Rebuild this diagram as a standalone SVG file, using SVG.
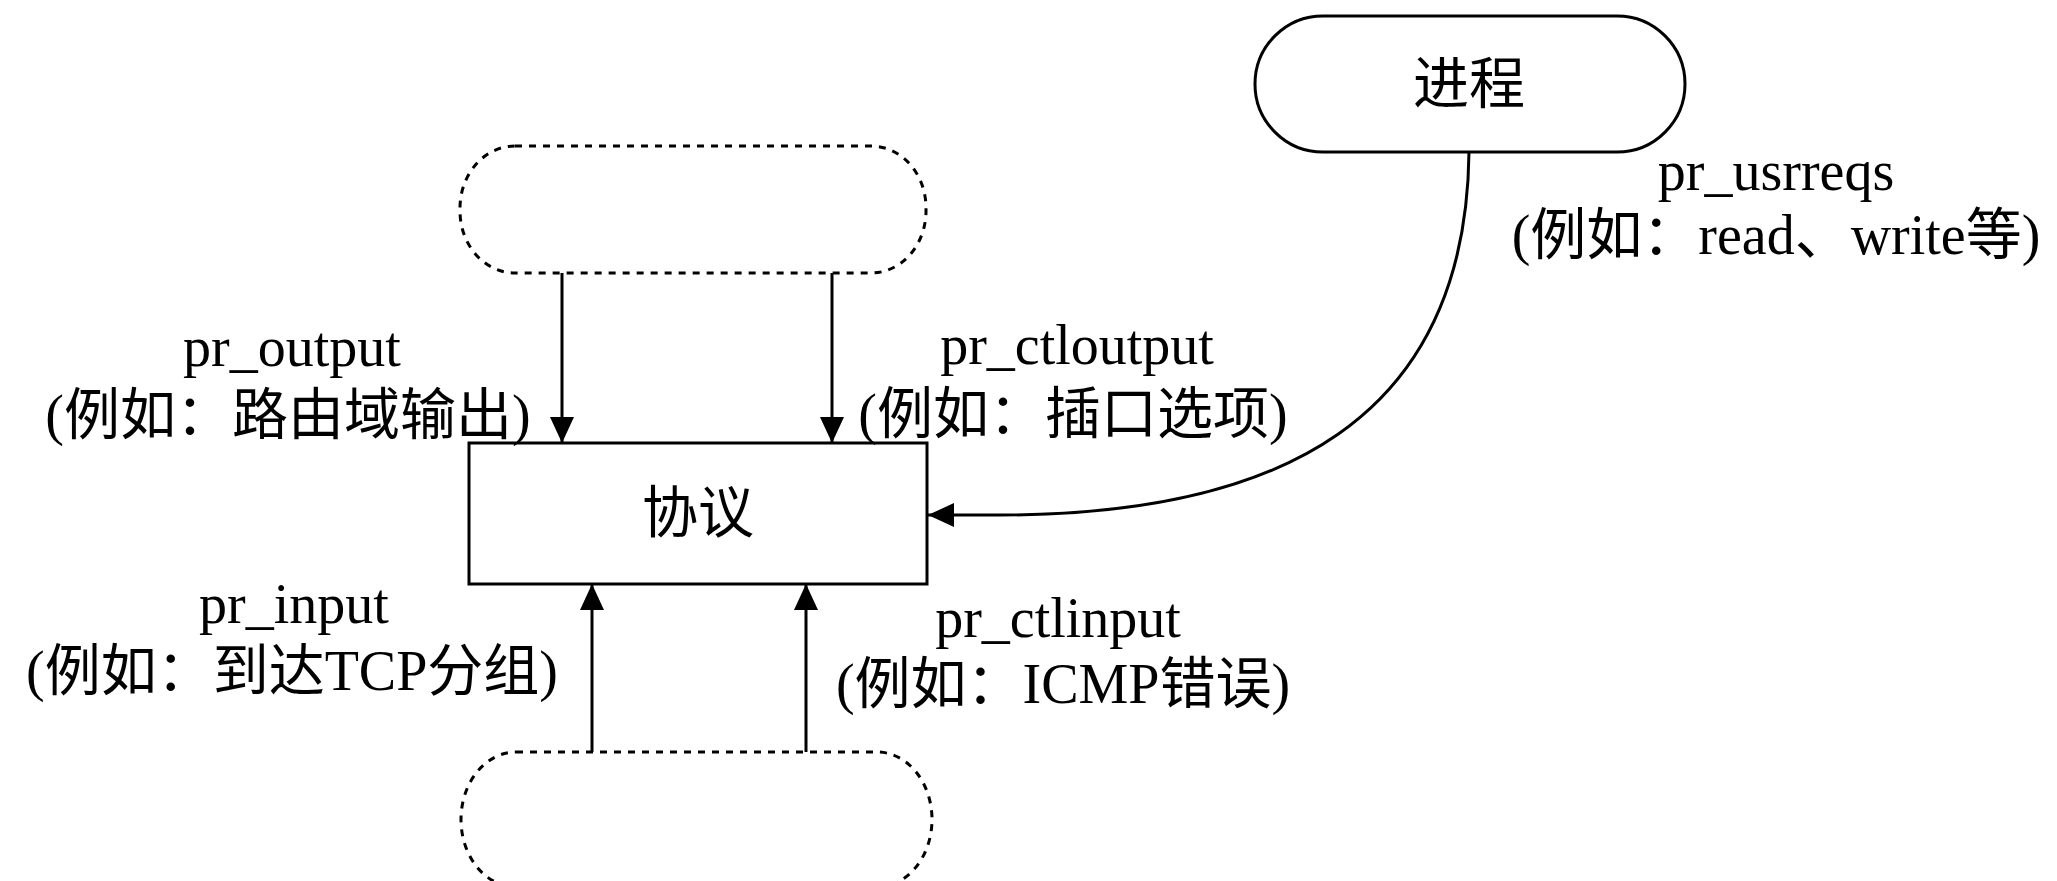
<svg xmlns="http://www.w3.org/2000/svg" width="2057" height="881" viewBox="0 0 2057 881">
<defs>
<style>
.lbl{font-family:"Liberation Serif","Noto Sans CJK SC",serif;font-size:56px;fill:#000;text-anchor:middle}
.node{fill:#fff;stroke:#000;stroke-width:3}
.dot{fill:none;stroke:#000;stroke-width:3;stroke-dasharray:7 7}
.edge{fill:none;stroke:#000;stroke-width:3}
</style>
<marker id="ah" viewBox="0 0 26 24" refX="26" refY="12" markerWidth="26" markerHeight="24" markerUnits="userSpaceOnUse" orient="auto">
<path d="M0,0 L26,12 L0,24 Z" fill="#000"/>
</marker>
</defs>
<rect width="2057" height="881" fill="#fff"/>
<g id="connectors">
<line class="edge" x1="562" y1="273" x2="562" y2="443" marker-end="url(#ah)"/>
<line class="edge" x1="832" y1="273" x2="832" y2="443" marker-end="url(#ah)"/>
<line class="edge" x1="592" y1="752" x2="592" y2="584" marker-end="url(#ah)"/>
<line class="edge" x1="806" y1="752" x2="806" y2="584" marker-end="url(#ah)"/>
<path class="edge" d="M1469,152 C1466,420 1280,515 1000,515 L928,515" marker-end="url(#ah)"/>
</g>
<g id="process">
<rect class="node" x="1255" y="16" width="430" height="136" rx="68" ry="68"/>
<text class="lbl" x="1469" y="103">进程</text>
</g>
<g id="upper">
<rect class="dot" x="460" y="146" width="466" height="127" rx="55" ry="62"/>
</g>
<g id="protocol">
<rect class="node" x="469" y="443" width="458" height="141"/>
<text class="lbl" x="698" y="532">协议</text>
</g>
<g id="lower">
<rect class="dot" x="461" y="752" width="471" height="135" rx="55" ry="68"/>
</g>
<g id="labels">
<text class="lbl" x="292" y="366">pr_output</text>
<text class="lbl" x="288" y="434">(例如：路由域输出)</text>
<text class="lbl" x="1077" y="364">pr_ctloutput</text>
<text class="lbl" x="1073" y="433">(例如：插口选项)</text>
<text class="lbl" x="294" y="623">pr_input</text>
<text class="lbl" x="292" y="690">(例如：到达TCP分组)</text>
<text class="lbl" x="1058" y="637">pr_ctlinput</text>
<text class="lbl" x="1063" y="703">(例如：ICMP错误)</text>
<text class="lbl" x="1776" y="190">pr_usrreqs</text>
<text class="lbl" x="1776" y="254">(例如：read、write等)</text>
</g>
</svg>
